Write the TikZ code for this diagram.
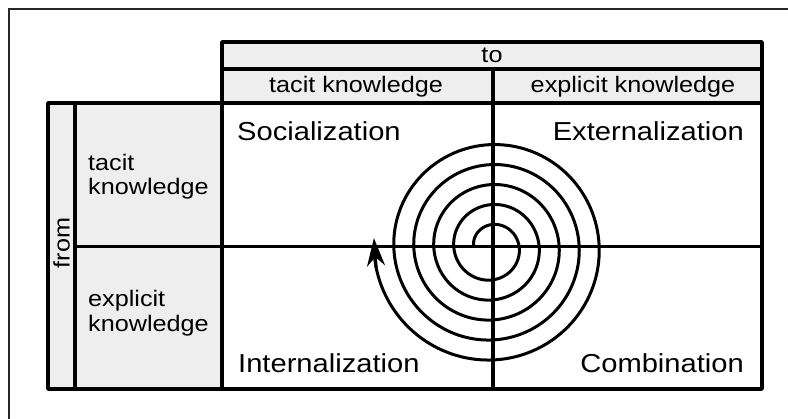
\documentclass[tikz,border=0pt]{standalone}
\usepackage{fontspec}
\setmainfont{Liberation Sans}[FakeStretch=1.12]
\usetikzlibrary{arrows.meta}
\definecolor{hdr}{RGB}{238,238,238}
\newcommand\hdrfont{\fontsize{22.5}{26}\selectfont}
\newcommand\quadfont{\fontsize{26}{30}\selectfont}
\begin{document}
\begin{tikzpicture}[x=1pt,y=-1pt,
  tbl/.style={line width=3.5pt,line join=round},
  hdrtxt/.style={font=\hdrfont,inner sep=0pt},
  quadtxt/.style={font=\quadfont,inner sep=0pt},
  spiral/.style={line width=3pt}]
\useasboundingbox (0,0) rectangle (788,419);
% outer frame (cropped)
\draw[line width=2.2pt,black!85] (9,419) -- (9,9) -- (788,9);
% grey header fills
\fill[hdr] (222,42) rectangle (762,103);
\fill[hdr] (48,103) rectangle (222,389);
% table lines
\draw[tbl] (222,103) -- (222,42) -- (762,42) -- (762,389) -- (48,389) -- (48,103) -- cycle;
\draw[tbl] (222,69) -- (762,69);
\draw[tbl] (222,103) -- (762,103);
\draw[tbl] (75,103) -- (75,389);
\draw[tbl] (222,103) -- (222,389);
\draw[tbl] (493,69) -- (493,389);
\draw[tbl] (75,246.5) -- (762,246.5);
% header texts
\node[hdrtxt,anchor=base] (to) at (492,63) {to};
\node[hdrtxt,anchor=base] (tacitH) at (356,93) {tacit knowledge};
\node[hdrtxt,anchor=base] (explicitH) at (633,93) {explicit knowledge};
\node[hdrtxt,rotate=90] (from) at (61.5,243) {from};
\node[hdrtxt,anchor=base west] (tacitL1) at (88,171) {tacit};
\node[hdrtxt,anchor=base west] (tacitL2) at (88,195) {knowledge};
\node[hdrtxt,anchor=base west] (explL1) at (88,307) {explicit};
\node[hdrtxt,anchor=base west] (explL2) at (88,332) {knowledge};
% quadrant texts
\node[quadtxt,anchor=base west] (soc) at (237,141) {Socialization};
\node[quadtxt,anchor=base east] (ext) at (744,141) {Externalization};
\node[quadtxt,anchor=base west] (int) at (238,373) {Internalization};
\node[quadtxt,anchor=base east] (comb) at (744,373) {Combination};
% spiral
\def\cx{491.5}
\def\cy{247.3}
\draw[spiral] plot[domain=0:4.99,samples=721,variable=\t]
  ({\cx+(17.7+20*\t)*cos(180-360*\t)},{\cy-(17.7+20*\t)*sin(180-360*\t)});
\coordinate (pre) at ({\cx+(17.7+20*4.972)*cos(180-360*4.972)},{\cy-(17.7+20*4.972)*sin(180-360*4.972)});
\coordinate (tip) at ({\cx+(17.7+20*5.0125)*cos(180-360*5.0125)},{\cy-(17.7+20*5.0125)*sin(180-360*5.0125)});
\draw[spiral,-{Stealth[length=28pt,width=18pt,inset=9pt]}] (pre) -- (tip);
\end{tikzpicture}
\end{document}
